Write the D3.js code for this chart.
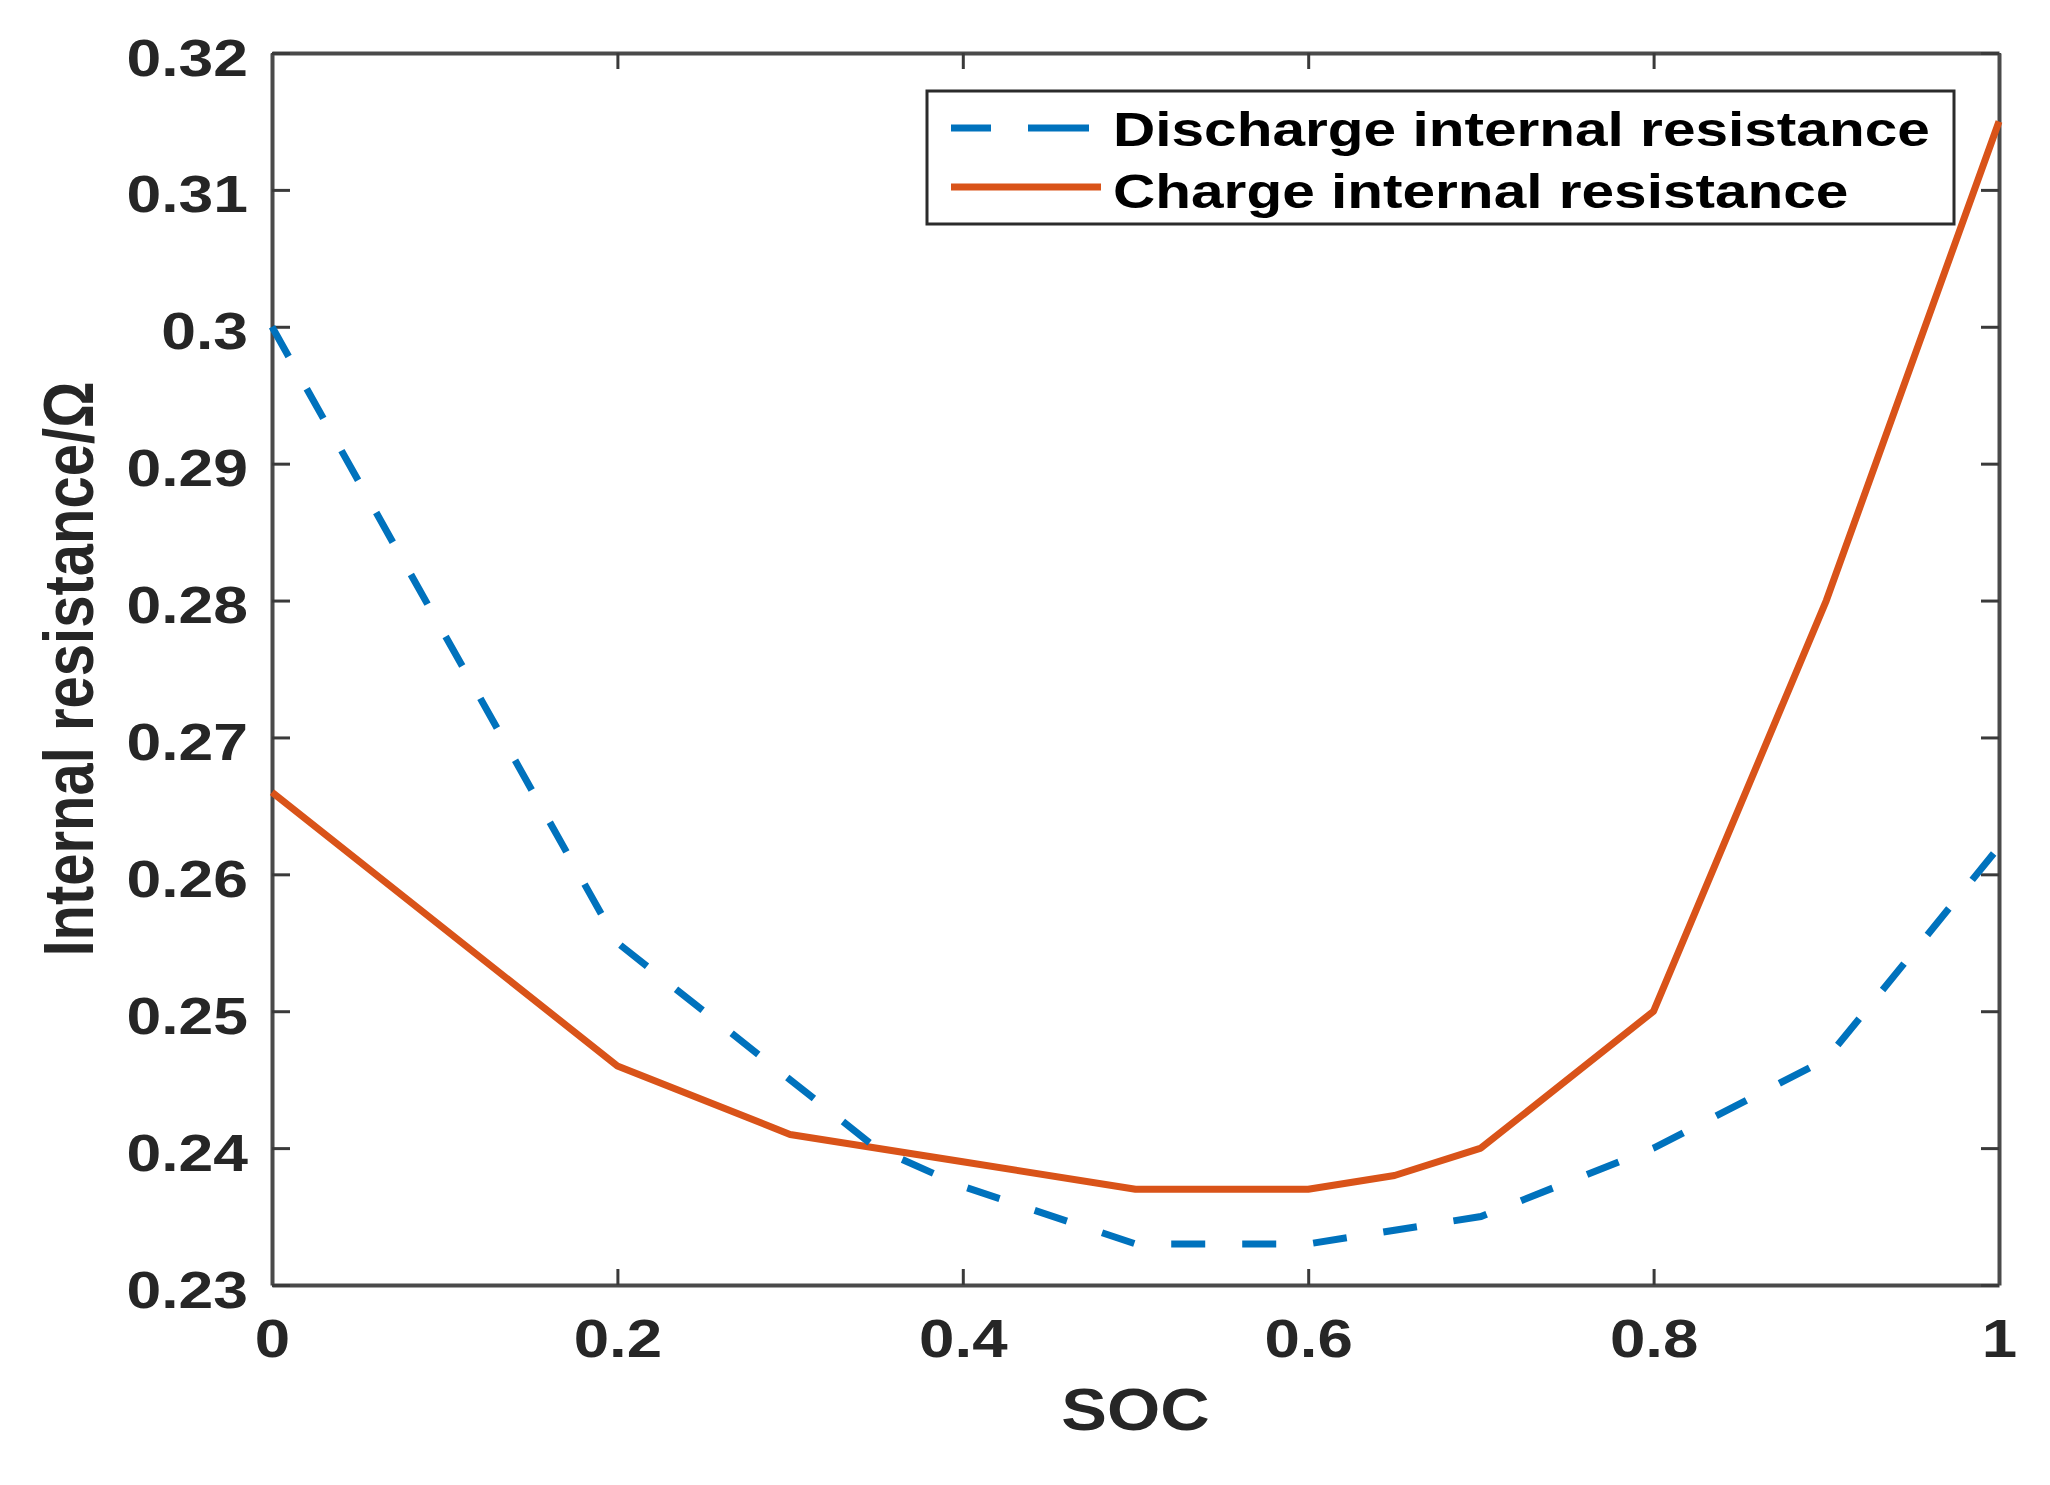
<!DOCTYPE html>
<html>
<head>
<meta charset="utf-8">
<script src="https://cdn.jsdelivr.net/npm/d3@7"></script>
<style>
  body { margin: 0; background: #fff; }
  text { font-family: "Liberation Sans", Arial, sans-serif; }
</style>
</head>
<body>
<script>
// data
var socDischarge = [0, 0.2, 0.3, 0.35, 0.4, 0.5, 0.6, 0.65, 0.7, 0.8, 0.9, 1.0];
var rDischarge   = [0.300, 0.255, 0.245, 0.240, 0.2372, 0.233, 0.233, 0.234, 0.235, 0.240, 0.2465, 0.262];
var socCharge    = [0, 0.2, 0.3, 0.4, 0.5, 0.6, 0.65, 0.7, 0.8, 0.9, 1.0];
var rCharge      = [0.266, 0.246, 0.241, 0.239, 0.237, 0.237, 0.238, 0.240, 0.250, 0.280, 0.315];
var xTicks = [0, 0.2, 0.4, 0.6, 0.8, 1];
var xTickLabels = ["0", "0.2", "0.4", "0.6", "0.8", "1"];
var yTicks = [0.23, 0.24, 0.25, 0.26, 0.27, 0.28, 0.29, 0.30, 0.31, 0.32];
var yTickLabels = ["0.23", "0.24", "0.25", "0.26", "0.27", "0.28", "0.29", "0.3", "0.31", "0.32"];
var seriesNames = ["Discharge internal resistance", "Charge internal resistance"];

var W = 2050, H = 1485;
var pLeft = 272, pRight = 1999, pTop = 53, pBottom = 1285;
var sx = 1.2; // the original figure is stretched horizontally

var svg = d3.select("body").append("svg")
    .attr("width", W)
    .attr("height", H);

svg.append("rect").attr("width", W).attr("height", H).attr("fill", "#fff");

var x = d3.scaleLinear().domain([0, 1]).range([pLeft, pRight]);
var y = d3.scaleLinear().domain([0.23, 0.32]).range([pBottom, pTop]);

// axes with inward ticks on all four sides
var bottomAxis = d3.axisBottom(x).tickValues(xTicks).tickSizeInner(-16).tickSizeOuter(0)
    .tickFormat(function(d, i) { return xTickLabels[i]; });
var topAxis = d3.axisTop(x).tickValues(xTicks).tickSizeInner(-16).tickSizeOuter(0).tickFormat("");
var leftAxis = d3.axisLeft(y).tickValues(yTicks).tickSizeInner(-18).tickSizeOuter(0)
    .tickFormat(function(d, i) { return yTickLabels[i]; });
var rightAxis = d3.axisRight(y).tickValues(yTicks).tickSizeInner(-18).tickSizeOuter(0).tickFormat("");

var gb = svg.append("g").attr("transform", "translate(0," + pBottom + ")").call(bottomAxis);
var gt = svg.append("g").attr("transform", "translate(0," + pTop + ")").call(topAxis);
var gl = svg.append("g").attr("transform", "translate(" + pLeft + ",0)").call(leftAxis);
var gr = svg.append("g").attr("transform", "translate(" + pRight + ",0)").call(rightAxis);

[gb, gt, gl, gr].forEach(function(g) {
    g.select(".domain").attr("stroke", "#4a4a4a").attr("stroke-width", 4);
    g.selectAll(".tick line").attr("stroke", "#3a3a3a").attr("stroke-width", 3);
});

gb.selectAll(".tick text")
    .attr("y", 0).attr("dy", null)
    .attr("transform", "translate(0,72) scale(" + sx + ",1)")
    .attr("fill", "#262626")
    .attr("font-size", 53)
    .attr("font-weight", "bold");

gl.selectAll(".tick text")
    .attr("x", 0).attr("dy", null)
    .attr("transform", "translate(-24,22) scale(" + sx + ",1)")
    .attr("text-anchor", "end")
    .attr("fill", "#262626")
    .attr("font-size", 52)
    .attr("font-weight", "bold");

svg.selectAll(".tick text").attr("font-family", "Liberation Sans, Arial, sans-serif");

// axis titles
svg.append("text")
    .attr("transform", "translate(" + ((pLeft + pRight) / 2) + ",1430) scale(1.16,1)")
    .attr("text-anchor", "middle")
    .attr("font-size", 59)
    .attr("font-weight", "bold")
    .attr("fill", "#262626")
    .text("SOC");

svg.append("text")
    .attr("transform", "translate(93," + ((pTop + pBottom) / 2) + ") scale(1.22,1) rotate(-90)")
    .attr("text-anchor", "middle")
    .attr("font-size", 58)
    .attr("font-weight", "bold")
    .attr("fill", "#262626")
    .text("Internal resistance/Ω");

// data lines
var plot = svg.append("g");

var line = d3.line()
    .x(function(d) { return x(d[0]); })
    .y(function(d) { return y(d[1]); });

plot.append("path")
    .datum(d3.zip(socCharge, rCharge))
    .attr("d", line)
    .attr("fill", "none")
    .attr("stroke", "#D95319")
    .attr("stroke-width", 7)
    .attr("stroke-linejoin", "round");

plot.append("path")
    .datum(d3.zip(socDischarge, rDischarge))
    .attr("d", line)
    .attr("fill", "none")
    .attr("stroke", "#0072BD")
    .attr("stroke-width", 7)
    .attr("stroke-dasharray", "34 37");

// legend
var legend = svg.append("g");
legend.append("rect")
    .attr("x", 927).attr("y", 91)
    .attr("width", 1954 - 927).attr("height", 224 - 91)
    .attr("fill", "#fff")
    .attr("stroke", "#2b2b2b")
    .attr("stroke-width", 3);

var legendItems = [
    {name: seriesNames[0], color: "#0072BD", dash: "40 37 61 100", ly: 128, ty: 146},
    {name: seriesNames[1], color: "#D95319", dash: null, ly: 187, ty: 208}
];

legendItems.forEach(function(it) {
    legend.append("line")
        .attr("x1", 951).attr("x2", 1101)
        .attr("y1", it.ly).attr("y2", it.ly)
        .attr("stroke", it.color)
        .attr("stroke-width", 7)
        .attr("stroke-dasharray", it.dash);
    legend.append("text")
        .attr("transform", "translate(1113," + it.ty + ") scale(1.22,1)")
        .attr("font-size", 48)
        .attr("font-weight", "bold")
        .attr("fill", "#000")
        .text(it.name);
});
</script>
</body>
</html>
